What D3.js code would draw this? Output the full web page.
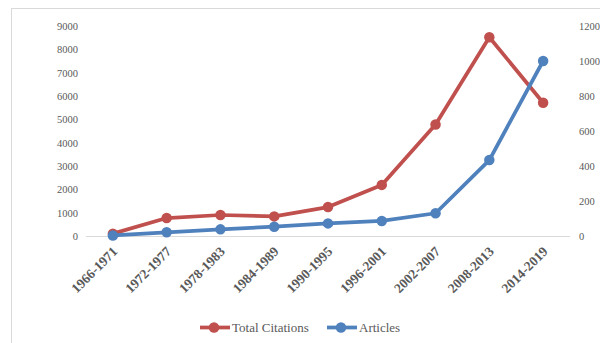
<!DOCTYPE html>
<html>
<head>
<meta charset="utf-8">
<script src="https://cdn.jsdelivr.net/npm/d3@7"></script>
<style>
  html, body { margin: 0; padding: 0; background: #fff; }
  svg { display: block; }
  svg text { font-family: "Liberation Serif", "Times New Roman", serif; }
</style>
</head>
<body>
<svg id="chart" width="600" height="343"></svg>
<script>
// Periods and the two series plotted against them
const periods = ["1966-1971", "1972-1977", "1978-1983", "1984-1989", "1990-1995",
                 "1996-2001", "2002-2007", "2008-2013", "2014-2019"];
const totalCitations = [100, 770, 900, 840, 1240, 2190, 4780, 8520, 5710];
const articles = [3, 21, 38, 53, 72, 86, 130, 434, 1000];
const leftTicks = [0, 1000, 2000, 3000, 4000, 5000, 6000, 7000, 8000, 9000];
const rightTicks = [0, 200, 400, 600, 800, 1000, 1200];

const red = "#C0504D", blue = "#4F81BD", grey = "#595959";
const font = "Liberation Serif, Times New Roman, serif";

const svg = d3.select("#chart");

// Outer chart frame (open on the right/bottom where it runs off the canvas)
svg.append("rect")
  .attr("x", 11.5).attr("y", 8.5)
  .attr("width", 620).attr("height", 360)
  .attr("fill", "none").attr("stroke", "#d9d9d9").attr("stroke-width", 1);

const plot = { left: 86, right: 570, top: 26, bottom: 236 };

const x = d3.scaleBand().domain(periods).range([plot.left, plot.right]);
const yL = d3.scaleLinear().domain([0, 9000]).range([plot.bottom, plot.top]);
const yR = d3.scaleLinear().domain([0, 1200]).range([plot.bottom, plot.top]);
const cx = d => x(d) + x.bandwidth() / 2;

function styleTicks(g, size, bold) {
  g.attr("font-family", null);
  g.selectAll("text")
    .style("font-family", font)
    .style("font-size", size + "px")
    .style("font-weight", bold ? "bold" : "normal")
    .attr("fill", grey);
}

// Left value axis (labels only)
const gL = svg.append("g").attr("transform", `translate(${plot.left - 8},0)`)
  .call(d3.axisLeft(yL).tickValues(leftTicks).tickFormat(d3.format("d")).tickSize(0).tickPadding(0));
gL.select(".domain").remove();
styleTicks(gL, 10.5, false);

// Right value axis (labels only)
const gR = svg.append("g").attr("transform", `translate(${plot.right + 9},0)`)
  .call(d3.axisRight(yR).tickValues(rightTicks).tickFormat(d3.format("d")).tickSize(0).tickPadding(0));
gR.select(".domain").remove();
styleTicks(gR, 10.5, false);

// Category axis baseline
svg.append("line")
  .attr("x1", plot.left).attr("x2", plot.right)
  .attr("y1", plot.bottom + 0.5).attr("y2", plot.bottom + 0.5)
  .attr("stroke", "#d9d9d9").attr("stroke-width", 1);

// Rotated category labels
const gX = svg.append("g").attr("transform", `translate(0,${plot.bottom})`)
  .call(d3.axisBottom(x).tickSize(0).tickPadding(0));
gX.select(".domain").remove();
styleTicks(gX, 13.5, true);
gX.selectAll("text")
  .attr("text-anchor", "end")
  .attr("dy", "0.35em")
  .attr("transform", "translate(2,13) rotate(-45)");

// Series lines with circular markers
function drawSeries(values, yScale, color) {
  const pts = periods.map((p, i) => [cx(p), yScale(values[i])]);
  svg.append("path")
    .attr("d", d3.line()(pts))
    .attr("fill", "none").attr("stroke", color)
    .attr("stroke-width", 3.75).attr("stroke-linejoin", "round").attr("stroke-linecap", "round");
  svg.append("g").selectAll("circle").data(pts).join("circle")
    .attr("cx", d => d[0]).attr("cy", d => d[1]).attr("r", 5.25)
    .attr("fill", color);
}
drawSeries(totalCitations, yL, red);
drawSeries(articles, yR, blue);

// Legend
const legend = [
  { label: "Total Citations", color: red, x: 200 },
  { label: "Articles", color: blue, x: 327 }
];
const ly = 327.5;
const lg = svg.append("g").selectAll("g").data(legend).join("g");
lg.append("line")
  .attr("x1", d => d.x).attr("x2", d => d.x + 30)
  .attr("y1", ly).attr("y2", ly)
  .attr("stroke", d => d.color).attr("stroke-width", 3.75);
lg.append("circle")
  .attr("cx", d => d.x + 14).attr("cy", ly).attr("r", 5.25)
  .attr("fill", d => d.color);
lg.append("text")
  .attr("x", d => d.x + 32).attr("y", ly).attr("dy", "0.35em")
  .style("font-family", font).style("font-size", "13px").attr("fill", grey)
  .text(d => d.label);
</script>
</body>
</html>
